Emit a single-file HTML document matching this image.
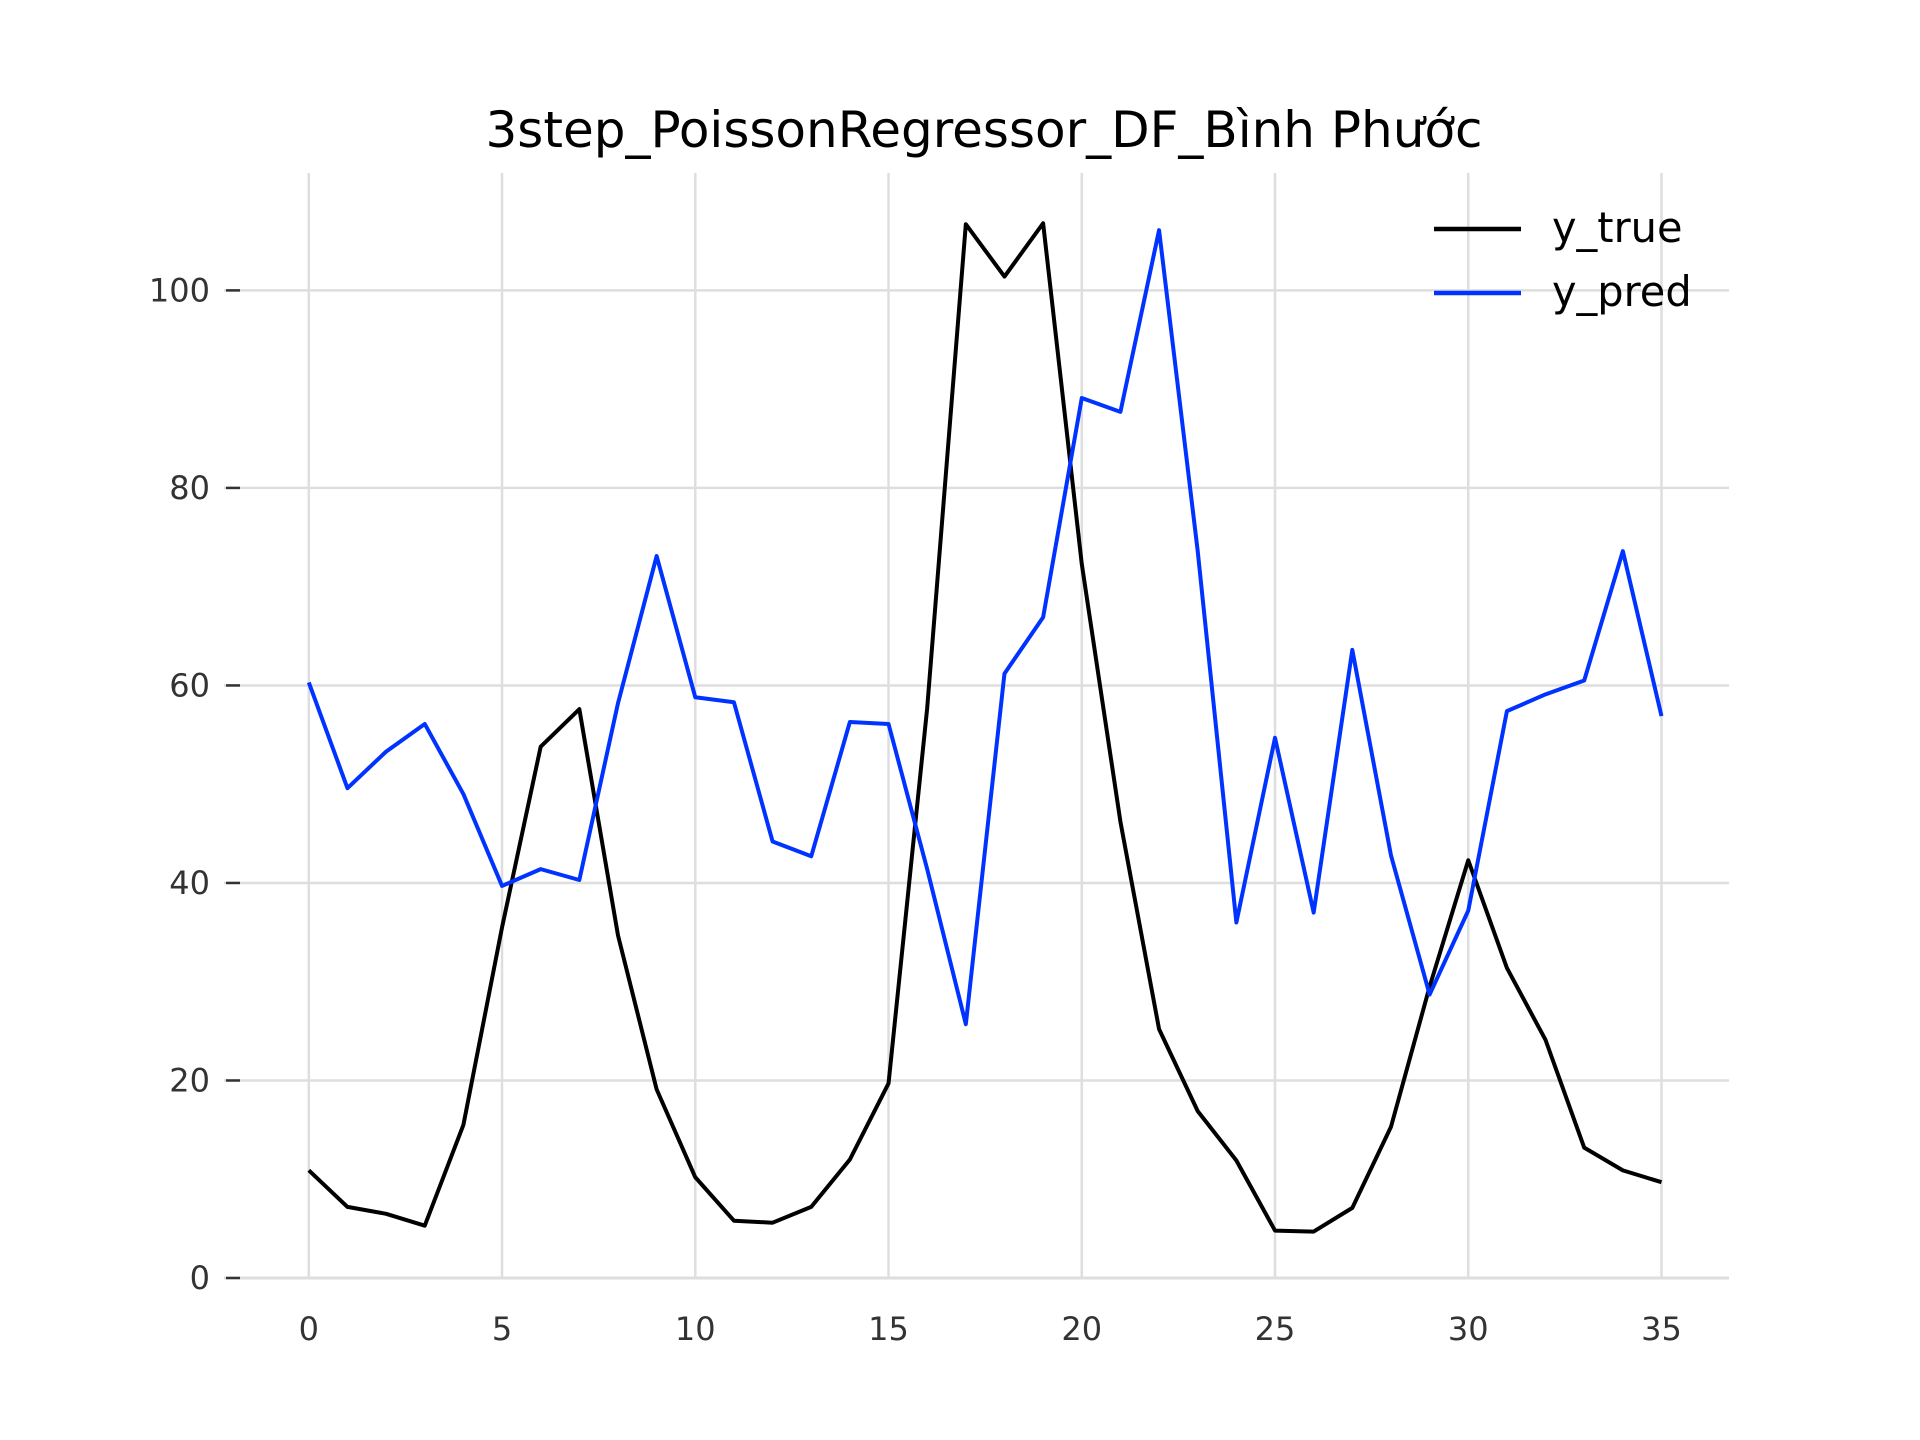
<!DOCTYPE html>
<html><head><meta charset="utf-8"><style>
html,body{margin:0;padding:0;background:#fff}
svg{display:block}
text{font-family:"DejaVu Sans","Liberation Sans",sans-serif}
</style></head><body>
<svg id="chart" width="1920" height="1440" viewBox="0 0 1920 1440" xmlns="http://www.w3.org/2000/svg">
<rect width="1920" height="1440" fill="#fff"/>
<text x="984" y="147" font-size="50" text-anchor="middle" fill="#000">3step_PoissonRegressor_DF_Bình Phước</text>
<g id="grid"></g>
<g id="axes"></g>
<g id="series"></g>
<g>
<g>
<line x1="1434" y1="229" x2="1521" y2="229" stroke="#000" stroke-width="4.5"/>
<text x="1552" y="242" font-size="41.5" fill="#000">y_true</text></g>
<g>
<line x1="1434" y1="293" x2="1521" y2="293" stroke="#0033ff" stroke-width="4.5"/>
<text x="1552" y="306" font-size="41.5" fill="#000">y_pred</text></g>
</g>
</svg>
<script>
const xTicks = [0,5,10,15,20,25,30,35];
const yTicks = [0,20,40,60,80,100];
const yTrue = [10.9,7.2,6.5,5.3,15.5,35.5,53.8,57.6,34.7,19.1,10.2,5.8,5.6,7.2,12.0,19.7,57.7,106.7,101.4,106.8,72.3,46.2,25.2,16.9,11.9,4.8,4.7,7.1,15.3,29.5,42.3,31.4,24.1,13.2,10.9,9.7];
const yPred = [60.3,49.6,53.3,56.1,49.0,39.7,41.4,40.3,58.2,73.1,58.8,58.3,44.2,42.7,56.3,56.1,41.4,25.7,61.2,66.9,89.1,87.7,106.1,73.6,36.0,54.7,37.0,63.6,42.8,28.7,37.2,57.4,59.1,60.5,73.6,56.9];
const NS='http://www.w3.org/2000/svg';
const L=224,R=1729,T=173,B=1278;
function xs(v){return 308.8+v*(1661.5-308.8)/35;}
function ys(v){return 1278-v*(1278-290.4)/100;}
function mk(tag,attrs,parent){const e=document.createElementNS(NS,tag);for(const k in attrs)e.setAttribute(k,attrs[k]);parent.appendChild(e);return e;}
const grid=document.getElementById('grid'),axes=document.getElementById('axes'),series=document.getElementById('series');
xTicks.forEach(t=>{
  const l=mk('line',{x1:xs(t),x2:xs(t),y1:T,y2:B,stroke:'#dedede','stroke-width':2.5},grid);
  
  
  const tx=mk('text',{x:xs(t),y:1340,'font-size':32,'text-anchor':'middle',fill:'#333'},axes);
  tx.textContent=t;
  
  
});
yTicks.forEach(t=>{
  const l=mk('line',{x1:L,x2:R,y1:ys(t),y2:ys(t),stroke:'#dedede','stroke-width':t===0?3:2.5},grid);
  
  
  const tk=mk('line',{x1:226,x2:240,y1:ys(t),y2:ys(t),stroke:'#333','stroke-width':2.5},axes);
  
  
  const tx=mk('text',{x:210,y:ys(t)+11,'font-size':32,'text-anchor':'end',fill:'#333'},axes);
  tx.textContent=t;
  
  
});
function line(data,color,name){
  const p=mk('polyline',{points:data.map((v,i)=>xs(i)+','+ys(v)).join(' '),fill:'none',stroke:color,'stroke-width':4,'stroke-linejoin':'round'},series);
  
  
}
line(yTrue,'#000','y-true-line');
line(yPred,'#0033ff','y-pred-line');
</script>
</body></html>
